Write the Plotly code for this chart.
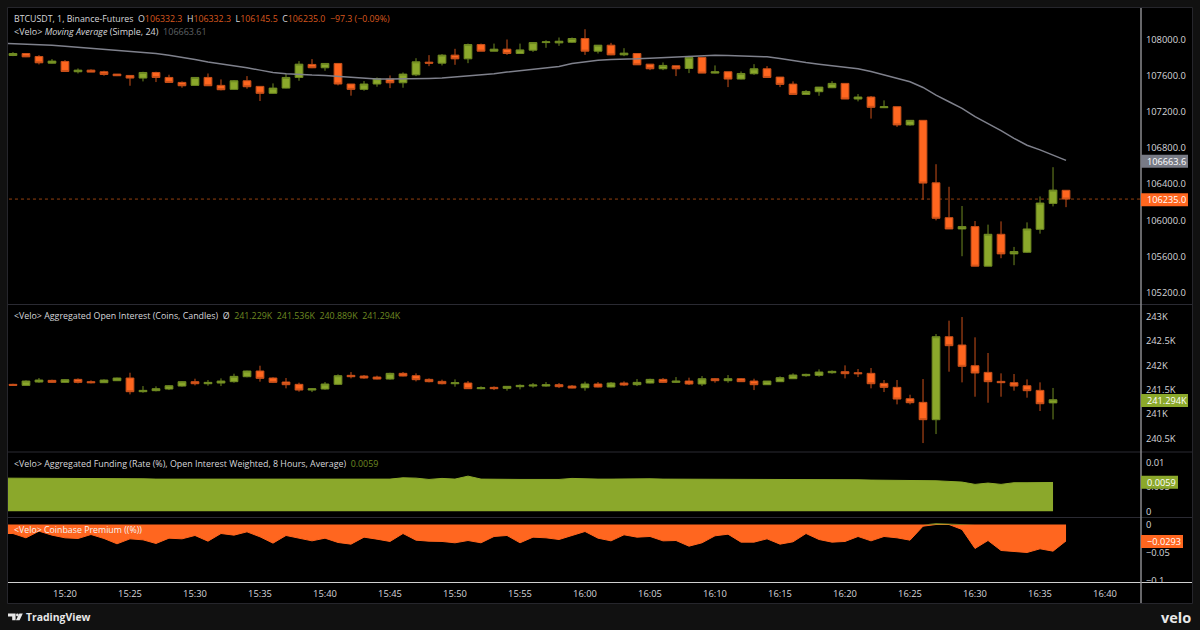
import pandas as pd
import plotly.graph_objects as go

price_open = [107825,107847,107814,107740,107759,107645,107663,107645,107619,107604,
107575,107637,107582,107527,107494,107582,107494,107450,107545,107483,
107406,107464,107582,107726,107689,107737,107509,107450,107509,107564,
107523,107611,107751,107740,107829,107788,107946,107873,107895,107847,
107884,107968,107965,107972,108013,107873,107939,107832,107847,107729,
107678,107711,107681,107803,107630,107645,107564,107623,107678,107586,
107508,107394,107424,107468,107516,107343,107365,107247,107258,107056,
107107,106415,106029,105904,105930,105492,105845,105628,105646,105900,
106187,106332.3]
price_high = [107862,107847,107829,107785,107774,107682,107671,107656,107619,107608,
107645,107645,107612,107538,107582,107626,107560,107553,107597,107483,
107516,107626,107763,107785,107737,107737,107509,107542,107582,107604,
107637,107795,107829,107840,107899,107957,107957,107957,108002,107957,
107972,107994,108024,108024,108116,107939,107965,107906,107847,107729,
107748,107711,107821,107803,107715,107645,107648,107729,107707,107586,
107538,107442,107475,107541,107516,107398,107376,107328,107258,107107,
107107,106621,106371,106158,105992,105952,105988,105705,105977,106264,
106588,106332.3]
price_low = [107818,107807,107726,107737,107648,107626,107641,107601,107597,107490,
107538,107531,107520,107468,107490,107490,107439,107446,107457,107321,
107402,107461,107545,107685,107656,107494,107380,107435,107479,107464,
107468,107597,107707,107715,107722,107740,107873,107873,107832,107843,
107865,107910,107932,107965,107832,107847,107829,107818,107722,107663,
107663,107597,107630,107630,107626,107475,107560,107611,107582,107475,
107394,107390,107379,107464,107343,107317,107126,107243,107034,107048,
106228,105999,105904,105602,105492,105492,105580,105503,105639,105852,
106154,106145.5]
price_close = [107847,107810,107744,107763,107648,107663,107641,107615,107601,107575,
107637,107582,107527,107490,107582,107490,107446,107545,107479,107406,
107464,107582,107729,107689,107737,107509,107450,107509,107568,107523,
107619,107755,107740,107829,107788,107946,107873,107895,107847,107887,
107968,107976,107983,108013,107873,107939,107832,107851,107722,107678,
107715,107678,107803,107630,107645,107564,107626,107678,107582,107505,
107394,107427,107475,107516,107343,107365,107251,107258,107056,107107,
106412,106022,105904,105930,105492,105845,105628,105654,105904,106191,
106334,106235.0]
ma24 = [107962,107958,107954,107947,107939,107928,107917,107906,107891,107880,107869,
107858,107847,107829,107807,107781,107752,107733,107711,107689,107663,
107637,107623,107612,107608,107604,107593,107582,107571,107564,107564,
107564,107567,107571,107575,107586,107600,107611,107623,107641,107656,
107667,107685,107703,107737,107759,107773,107781,107781,107788,107795,
107803,107810,107818,107825,107829,107825,107821,107818,107810,107792,
107766,107747,107729,107714,107700,107678,107648,107611,107571,107534,
107471,107387,107313,107240,107148,107074,106993,106908,106831,106780,
106724,106663.61]

oi_open = [241610,241589,241658,241692,241651,241712,241665,241644,241685,241740,
241459,241480,241514,241575,241665,241623,241637,241665,241767,241884,
241740,241658,241610,241493,241514,241610,241795,241781,241760,241719,
241836,241788,241712,241671,241623,241637,241521,241548,241528,241562,
241575,241575,241603,241575,241541,241617,241555,241637,241603,241637,
241712,241651,241678,241617,241726,241685,241726,241678,241603,241665,
241726,241788,241795,241849,241870,241849,241836,241630,241548,241315,
241240,240884,242589,242418,241993,241856,241671,241644,241582,241486,
241229]
oi_high = [241623,241692,241740,241706,241719,241733,241692,241712,241747,241849,
241575,241569,241596,241678,241726,241699,241733,241829,241891,241993,
241754,241740,241644,241534,241658,241815,241863,241802,241788,241849,
241863,241836,241733,241706,241712,241678,241569,241569,241575,241610,
241637,241658,241637,241596,241665,241658,241658,241671,241719,241726,
241740,241760,241747,241781,241740,241802,241740,241726,241678,241774,
241836,241829,241918,241897,242000,241925,241945,241699,241699,241397,
241719,242644,242918,242993,242576,242254,241836,241822,241712,241651,
241536]
oi_low = [241589,241582,241644,241644,241644,241630,241630,241637,241678,241404,
241438,241466,241493,241562,241589,241582,241575,241644,241754,241665,
241637,241528,241459,241452,241500,241596,241733,241726,241712,241706,
241774,241671,241651,241610,241562,241514,241507,241493,241480,241507,
241541,241562,241534,241528,241480,241548,241548,241575,241575,241630,
241637,241637,241596,241575,241644,241644,241658,241493,241596,241658,
241719,241767,241767,241829,241733,241760,241528,241452,241199,241199,
240404,240589,241870,241651,241356,241233,241356,241480,241336,241062,
240889]
oi_close = [241589,241678,241699,241651,241706,241651,241644,241699,241740,241459,
241486,241521,241582,241665,241623,241651,241678,241774,241884,241733,
241651,241603,241493,241521,241617,241788,241767,241740,241719,241836,
241781,241706,241665,241623,241644,241521,241541,241521,241569,241589,
241596,241603,241562,241534,241617,241555,241637,241596,241651,241712,
241651,241678,241617,241726,241685,241726,241665,241603,241678,241747,
241802,241815,241863,241877,241829,241829,241623,241548,241308,241233,
240884,242589,242404,241980,241843,241665,241644,241575,241480,241212,
241294]

funding = [.00679,.00679,.00679,.00679,.00673,.00673,.00666,.00666,.00666,.00666,.00666,
.00666,.00659,.00659,.00659,.00652,.00652,.00652,.00652,.00652,.00659,
.00666,.00659,.00652,.00652,.00652,.00652,.00652,.00659,.00659,.00659,
.00686,.00679,.00652,.00673,.00659,.0072,.00659,.00652,.00652,.00652,
.00652,.00652,.00652,.00673,.00659,.00659,.00659,.00666,.00666,.00666,
.00659,.00659,.00659,.00659,.00659,.00659,.00652,.00652,.00652,.00652,
.00652,.00652,.00652,.00652,.00646,.00646,.00639,.00639,.00632,.00625,
.00632,.00625,.00612,.00598,.00551,.00578,.00551,.00585,.00585,.00592,
.0059]
premium = [-.0161,-.0161,-.0238,-.0119,-.0190,-.0238,-.0250,-.0179,-.0250,-.0345,-.0256,
-.0274,-.0339,-.0244,-.0256,-.0196,-.0298,-.0161,-.0190,-.0131,-.0220,
-.0333,-.0196,-.0244,-.0292,-.0244,-.0321,-.0351,-.0226,-.0262,-.0303,
-.0161,-.0280,-.0298,-.0303,-.0327,-.0286,-.0327,-.0214,-.0196,-.0327,
-.0226,-.0238,-.0268,-.0196,-.0125,-.0244,-.0292,-.0184,-.0226,-.0214,
-.0292,-.0286,-.0387,-.0327,-.0202,-.0173,-.0315,-.0315,-.0256,-.0351,
-.0309,-.0161,-.0268,-.0315,-.0303,-.0214,-.0292,-.0214,-.0238,-.0280,
-.0030,.0024,.0012,-.0089,-.0428,-.0286,-.0464,-.0482,-.0500,-.0434,
-.0476,-.0293]

price_ticks = [105200,105600,106000,106400,106800,107200,107600,108000]
oi_ticks = [240500,241000,241500,242000,242500,243000]
oi_tick_labels = ["240.5K","241K","241.5K","242K","242.5K","243K"]
funding_ticks = [0,0.005,0.01]
funding_tick_labels = ["0","0.005","0.01"]
premium_ticks = [0,-0.05,-0.1]
premium_tick_labels = ["0","\u22120.05","\u22120.1"]

times = pd.date_range("2025-06-11 15:16", periods=len(price_open), freq="min")
times_oi = times[:len(oi_open)]
# the line panes start one bar earlier, left of the visible window
line_times = pd.date_range("2025-06-11 15:15", periods=len(ma24), freq="min")
times_fund = line_times[:len(funding)]

GREEN = "#8ba82b"
ORANGE = "#ff661f"
TEXT = "#d6d6da"
W, H = 1200, 630
FONT = "Open Sans"
FS = 9.4

def px(x): return x / W
def py(y): return 1 - y / H

fig = go.Figure()

def candles(o, h, l, c, t, yaxis):
    fig.add_trace(go.Candlestick(
        x=t, open=o, high=h, low=l, close=c, xaxis="x", yaxis=yaxis,
        increasing=dict(line=dict(color="#6f8a22", width=1), fillcolor=GREEN),
        decreasing=dict(line=dict(color="#c9501a", width=1), fillcolor=ORANGE),
        whiskerwidth=0, hoverinfo="skip"))

candles(price_open, price_high, price_low, price_close, times, "y")
fig.add_trace(go.Scatter(x=line_times, y=ma24, mode="lines", yaxis="y",
                         line=dict(color="#7f818c", width=1.5), hoverinfo="skip"))
candles(oi_open, oi_high, oi_low, oi_close, times_oi, "y2")
fig.add_trace(go.Scatter(x=times_fund, y=funding, mode="lines", yaxis="y3", fill="tozeroy",
                         fillcolor=GREEN, line=dict(color=GREEN, width=1), hoverinfo="skip"))
fig.add_trace(go.Scatter(x=line_times, y=[min(v, 0) for v in premium], mode="lines", yaxis="y4",
                         fill="tozeroy", fillcolor=ORANGE, line=dict(color=ORANGE, width=1),
                         hoverinfo="skip"))
fig.add_trace(go.Scatter(x=line_times, y=[max(v, 0) for v in premium], mode="lines", yaxis="y4",
                         fill="tozeroy", fillcolor=GREEN, line=dict(width=0), hoverinfo="skip"))

X0, X1 = 8, 1141
def yax(top, bottom, rng, vals, labels):
    return dict(domain=[py(bottom), py(top)], range=rng, side="right", anchor="x",
                tickmode="array", tickvals=vals, ticktext=labels, showgrid=False, zeroline=False,
                ticks="outside", ticklen=2, tickcolor="rgba(0,0,0,0)", showline=False,
                tickfont=dict(family=FONT, size=FS, color=TEXT), fixedrange=True)

shapes = []
def rect(x0, y0, x1, y1, fill, line=None, layer="below"):
    shapes.append(dict(type="rect", xref="paper", yref="paper", x0=px(x0), x1=px(x1), y0=py(y0), y1=py(y1),
                       fillcolor=fill, line=dict(color=line or fill, width=1 if line else 0), layer=layer))
def hline(y, x0, x1, color, width=1):
    shapes.append(dict(type="line", xref="paper", yref="paper", x0=px(x0), x1=px(x1), y0=py(y), y1=py(y),
                       line=dict(color=color, width=width), layer="above"))
def vline(x, y0, y1, color, width=1):
    shapes.append(dict(type="line", xref="paper", yref="paper", x0=px(x), x1=px(x), y0=py(y0), y1=py(y1),
                       line=dict(color=color, width=width), layer="above"))

rect(7.5, 7.5, 1192.5, 603.5, "#000000", "#26262c")
rect(1141, 582.5, 1192, 603, "#000000", layer="above")
hline(304.5, 8, 1192, "#2a2a32")
hline(452, 8, 1192, "#2a2a32")
hline(517.5, 8, 1192, "#2a2a32")
hline(582.5, 8, 1192, "#d0d0d0")
vline(1141, 8, 603, "#8a8a8e", 1.5)

shapes.append(dict(type="line", xref="x", yref="y", x0=times[0] - pd.Timedelta(minutes=10),
                   x1=times[-1] + pd.Timedelta(minutes=15), y0=price_close[-1], y1=price_close[-1],
                   line=dict(color="#93400f", width=1, dash="dot"), layer="below"))

anns = []
def label(text, x, y, size=FS, color=TEXT, anchor="left", family=FONT):
    anns.append(dict(text=text, xref="paper", yref="paper", x=px(x), y=py(y), xanchor=anchor, yanchor="middle",
                     showarrow=False, align=anchor, font=dict(family=family, size=size, color=color)))

def value_tag(text, y, x1, color):
    rect(1141, y - 6.5, x1, y + 6.5, color, layer="above")
    label(text, 1144.5, y, color="#ffffff", size=9.2)

value_tag(f"{ma24[-1]:.1f}", 161.3, 1188, "#787b86")
value_tag(f"{price_close[-1]:.1f}", 199.7, 1188, ORANGE)
value_tag(f"{oi_close[-1] / 1000:.3f}K", 400.5, 1188, GREEN)
value_tag(f"{funding[-1]:.4f}", 482.3, 1178, GREEN)
value_tag(f"\u2212{abs(premium[-1]):.4f}", 541.5, 1183, ORANGE)

OC = "#d9581f"
MUTED = "#5f6065"
GC = "#6f8a22"
ch = price_close[-1] - price_open[-1]
label(f'BTCUSDT, 1, Binance-Futures  O<span style="color:{OC}">{price_open[-1]:.1f}</span>  '
      f'H<span style="color:{OC}">{price_high[-1]:.1f}</span>  L<span style="color:{OC}">{price_low[-1]:.1f}</span>  '
      f'C<span style="color:{OC}">{price_close[-1]:.1f}  \u2212{abs(ch):.1f} (\u2212{abs(ch) / price_open[-1] * 100:.2f}%)</span>',
      11.5, 18.7, size=8.8)
label(f'&lt;Velo&gt; <i>Moving Average</i> (Simple, 24)  <span style="color:{MUTED}">{ma24[-1]:.2f}</span>', 11.5, 31.8, size=9.0)
label(f'&lt;Velo&gt; Aggregated Open Interest (Coins, Candles)  \u00d8  <span style="color:{GC}">'
      f'{oi_open[-1] / 1000:.3f}K  {oi_high[-1] / 1000:.3f}K  {oi_low[-1] / 1000:.3f}K  {oi_close[-1] / 1000:.3f}K</span>',
      11.5, 316, size=8.85)
label(f'&lt;Velo&gt; Aggregated Funding (Rate (%), Open Interest Weighted, 8 Hours, Average)  '
      f'<span style="color:{GC}">{funding[-1]:.4f}</span>', 11.5, 463.8, size=8.87)
label('&lt;Velo&gt; Coinbase Premium ((%))', 11.5, 529.5, color="#f4f4f4", size=8.8)
label("<b>TradingView</b>", 23.5, 616.7, size=10.4, color="#e8e8e8")
label("<b>velo</b>", 1193, 617, size=14.5, color="#e8e8e8", anchor="right")

# TradingView mark
for d in [
    f"M {px(8)} {py(613.5)} L {px(15.6)} {py(613.5)} L {px(15.6)} {py(620.3)} L {px(12.2)} {py(620.3)} L {px(12.2)} {py(616.6)} L {px(8)} {py(616.6)} Z",
    f"M {px(19.4)} {py(613.5)} L {px(22.8)} {py(613.5)} L {px(19.6)} {py(620.3)} L {px(15.9)} {py(620.3)} Z",
]:
    shapes.append(dict(type="path", xref="paper", yref="paper", path=d, fillcolor="#e8e8e8", line=dict(width=0), layer="above"))
shapes.append(dict(type="circle", xref="paper", yref="paper", x0=px(16), x1=px(18.8), y0=py(613.6), y1=py(616.4),
                   fillcolor="#e8e8e8", line=dict(width=0), layer="above"))

fig.update_layout(
    width=W, height=H, margin=dict(l=0, r=0, t=0, b=0, pad=0, autoexpand=False),
    paper_bgcolor="#111111", plot_bgcolor="#000000", showlegend=False, boxgap=0.15,
    xaxis=dict(domain=[px(X0), px(X1)], anchor="y4", type="date",
               range=["2025-06-11 15:15:37", "2025-06-11 16:42:46"],
               tick0="2025-06-11 15:00", dtick=300000, tickformat="%H:%M",
               rangeslider=dict(visible=False), showgrid=False, zeroline=False, showline=False,
               ticks="outside", ticklen=3, tickcolor="rgba(0,0,0,0)",
               tickfont=dict(family=FONT, size=FS, color=TEXT), fixedrange=True),
    yaxis=yax(8, 304, [105073, 108351], price_ticks, [f"{v}.0" for v in price_ticks]),
    yaxis2=yax(305, 451, [240241, 243240], oi_ticks, oi_tick_labels),
    yaxis3=yax(453, 517, [-0.00116, 0.01193], funding_ticks, funding_tick_labels),
    yaxis4=yax(518, 582, [-0.1027, 0.0116], premium_ticks, premium_tick_labels),
    shapes=shapes, annotations=anns,
)
fig.write_html("out.html", config=dict(displayModeBar=False, responsive=False),
               post_script="document.body.style.margin='0';document.body.style.overflow='hidden';")
